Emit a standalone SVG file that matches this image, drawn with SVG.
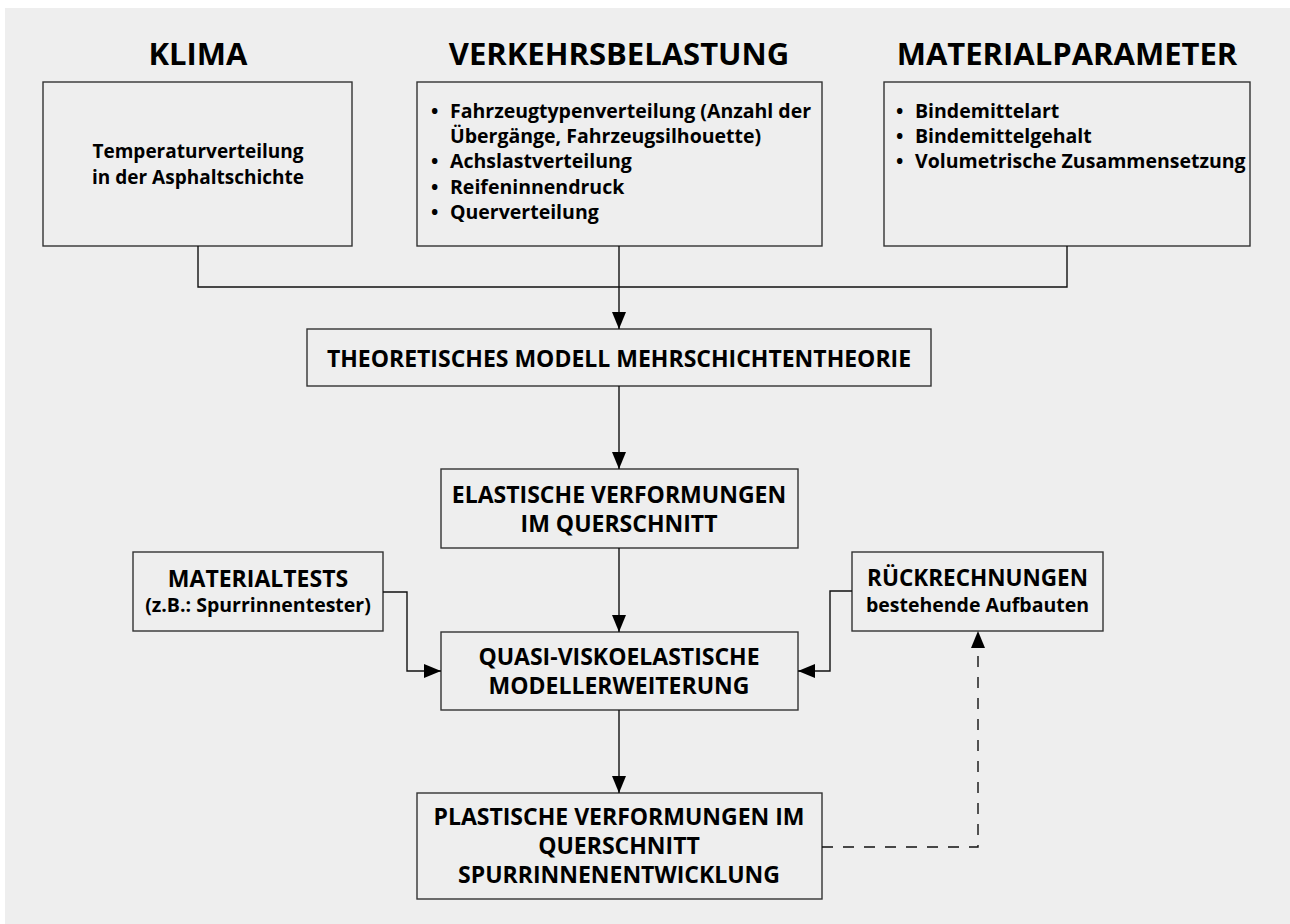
<svg xmlns="http://www.w3.org/2000/svg" width="1290" height="924" viewBox="0 0 1290 924">
<defs>
<style>
text{font-family:"Open Sans","Liberation Sans",sans-serif;font-weight:bold;fill:#000;}
.title{font-size:31px;text-anchor:middle;}
.cap{font-size:23px;text-anchor:middle;}
.txt{font-size:19.5px;}
.mid{text-anchor:middle;}
.box{fill:none;stroke:#333;stroke-width:1.4;}
.ln{fill:none;stroke:#111;stroke-width:1.4;}
.dash{fill:none;stroke:#111;stroke-width:1.4;stroke-dasharray:11 10;}
</style>
<marker id="ah" markerUnits="userSpaceOnUse" markerWidth="18" markerHeight="16" refX="17" refY="7" orient="auto">
<path d="M0,0 L17,7 L0,14 z" fill="#000"/>
</marker>
</defs>
<rect x="5" y="8" width="1285" height="916" fill="#eeeeee"/>

<g id="klima">
<text class="title" x="198" y="65">KLIMA</text>
<rect class="box" x="43" y="82" width="309" height="164"/>
<text class="txt mid" x="198" y="158" style="font-size:19px">Temperaturverteilung</text>
<text class="txt mid" x="198" y="184" style="font-size:19px">in der Asphaltschichte</text>
</g>

<g id="verkehr">
<text class="title" x="619" y="65">VERKEHRSBELASTUNG</text>
<rect class="box" x="417" y="82" width="405" height="164"/>
<text class="txt" x="431" y="118">•</text><text class="txt" x="450" y="118">Fahrzeugtypenverteilung (Anzahl der</text>
<text class="txt" x="450" y="143">Übergänge, Fahrzeugsilhouette)</text>
<text class="txt" x="431" y="168">•</text><text class="txt" x="450" y="168">Achslastverteilung</text>
<text class="txt" x="431" y="194">•</text><text class="txt" x="450" y="194">Reifeninnendruck</text>
<text class="txt" x="431" y="219">•</text><text class="txt" x="450" y="219">Querverteilung</text>
</g>

<g id="material">
<text class="title" x="1067" y="65">MATERIALPARAMETER</text>
<rect class="box" x="884" y="82" width="366" height="164"/>
<text class="txt" x="896" y="118">•</text><text class="txt" x="915" y="118">Bindemittelart</text>
<text class="txt" x="896" y="143">•</text><text class="txt" x="915" y="143">Bindemittelgehalt</text>
<text class="txt" x="896" y="168">•</text><text class="txt" x="915" y="168">Volumetrische Zusammensetzung</text>
</g>

<g id="theorie">
<rect class="box" x="307" y="329" width="624" height="57"/>
<text class="cap" x="619" y="367">THEORETISCHES MODELL MEHRSCHICHTENTHEORIE</text>
</g>

<g id="elastisch">
<rect class="box" x="441" y="469" width="357" height="79"/>
<text class="cap" x="619" y="503">ELASTISCHE VERFORMUNGEN</text>
<text class="cap" x="619" y="532">IM QUERSCHNITT</text>
</g>

<g id="materialtests">
<rect class="box" x="133" y="552" width="250" height="79"/>
<text class="cap" x="258" y="587">MATERIALTESTS</text>
<text class="txt mid" x="258" y="612">(z.B.: Spurrinnentester)</text>
</g>

<g id="rueck">
<rect class="box" x="852" y="552" width="251" height="79"/>
<text class="cap" x="977.5" y="586" style="font-size:22.5px">RÜCKRECHNUNGEN</text>
<text class="txt mid" x="977.5" y="612">bestehende Aufbauten</text>
</g>

<g id="quasi">
<rect class="box" x="441" y="632" width="357" height="78"/>
<text class="cap" x="619" y="664.5">QUASI-VISKOELASTISCHE</text>
<text class="cap" x="619" y="693.5">MODELLERWEITERUNG</text>
</g>

<g id="plastisch">
<rect class="box" x="417" y="793" width="405" height="106"/>
<text class="cap" x="619" y="825">PLASTISCHE VERFORMUNGEN IM</text>
<text class="cap" x="619" y="854">QUERSCHNITT</text>
<text class="cap" x="619" y="883">SPURRINNENENTWICKLUNG</text>
</g>

<g id="connectors">
<polyline class="ln" points="198,246 198,287 1067,287 1067,246"/>
<line class="ln" x1="619" y1="246" x2="619" y2="329" marker-end="url(#ah)"/>
<line class="ln" x1="619" y1="386" x2="619" y2="469" marker-end="url(#ah)"/>
<line class="ln" x1="619" y1="548" x2="619" y2="632" marker-end="url(#ah)"/>
<line class="ln" x1="619" y1="710" x2="619" y2="793" marker-end="url(#ah)"/>
<polyline class="ln" points="383,592 407,592 407,671 441,671" marker-end="url(#ah)"/>
<polyline class="ln" points="852,591 830,591 830,671 798,671" marker-end="url(#ah)"/>
<polyline class="dash" points="822,847 978,847 978,631" marker-end="url(#ah)"/>
</g>
</svg>
